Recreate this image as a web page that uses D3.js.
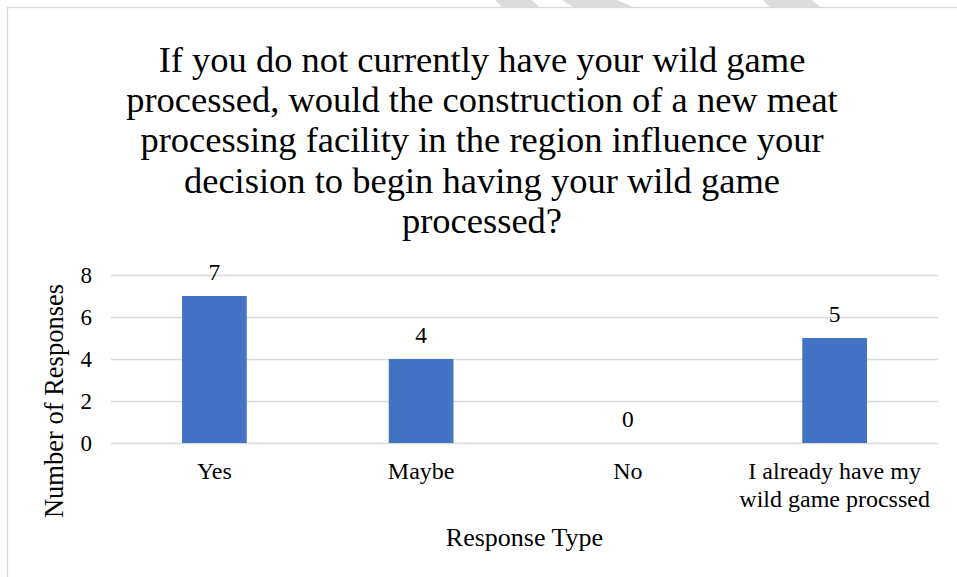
<!DOCTYPE html>
<html>
<head>
<meta charset="utf-8">
<script src="https://cdn.jsdelivr.net/npm/d3@7"></script>
<style>
  html, body { margin: 0; padding: 0; background: #fff; }
  svg { display: block; font-family: "Liberation Serif", "Times New Roman", serif; }
</style>
</head>
<body>
<div id="chart"></div>
<script>
// Survey bar chart: responses per answer type.

const TITLE_LINES = [
  "If you do not currently have your wild game",
  "processed, would the construction of a new meat",
  "processing facility in the region influence your",
  "decision to begin having your wild game",
  "processed?",
];
const CATEGORIES = ["Yes", "Maybe", "No", "I already have my wild game procssed"];
const COUNTS     = [7, 4, 0, 5];
const Y_TICKS    = [0, 2, 4, 6, 8];
const X_TITLE    = "Response Type";
const Y_TITLE    = "Number of Responses";

const W = 957, H = 577;
const plot = { left: 111, right: 938, top: 275, bottom: 443 };

const svg = d3.select("#chart").append("svg").attr("width", W).attr("height", H);

// faint watermark strokes peeking in at the top edge
const STRIPES = [
  [[495, 0], [532, 0], [539, 7], [502, 7]],
  [[562, 0], [617, 0], [633, 7], [573, 7]],
  [[763, 0], [812, 0], [820, 7], [770, 7]],
];
svg.append("g").selectAll("polygon").data(STRIPES).join("polygon")
  .attr("points", d => d.map(p => p.join(",")).join(" "))
  .attr("fill", "#dcdcdc");

// chart frame (only top and left edges fall inside the picture)
svg.append("rect")
  .attr("x", 7.5).attr("y", 7.5).attr("width", 1000).attr("height", 1000)
  .attr("fill", "none").attr("stroke", "#d9d9d9").attr("stroke-width", 1.3);

// ── Title ───────────────────────────────────────────────────────────────────
svg.append("text")
  .attr("x", 482).attr("y", 72)
  .attr("text-anchor", "middle")
  .style("font-size", "36.5px").style("fill", "#000")
  .selectAll("tspan").data(TITLE_LINES).join("tspan")
  .attr("x", 482).attr("dy", (d, i) => i === 0 ? 0 : 40.2)
  .text(d => d);

// ── Scales ──────────────────────────────────────────────────────────────────
const x = d3.scaleBand().domain(CATEGORIES).range([plot.left, plot.right]);
const y = d3.scaleLinear().domain([0, 8]).range([plot.bottom, plot.top]);
const barW = x.bandwidth() * 0.313;

// gridlines + y tick labels
svg.append("g")
  .attr("transform", `translate(${plot.left},0)`)
  .call(d3.axisLeft(y).tickValues(Y_TICKS).tickSize(-(plot.right - plot.left)).tickPadding(19))
  .call(ax => ax.select(".domain").remove())
  .call(ax => ax.selectAll(".tick line").attr("stroke", "#d9d9d9").attr("stroke-width", 1.3))
  .call(ax => ax.selectAll(".tick text")
    .attr("fill", "#000").style("font-size", "23px")
    .style("font-family", "'Liberation Serif', 'Times New Roman', serif"));

// bars
svg.append("g").selectAll("rect").data(CATEGORIES).join("rect")
  .attr("x", d => x(d) + (x.bandwidth() - barW) / 2)
  .attr("width", barW)
  .attr("y", (d, i) => y(COUNTS[i]))
  .attr("height", (d, i) => y(0) - y(COUNTS[i]))
  .attr("fill", "#4472c4");

// value labels
svg.append("g").selectAll("text").data(CATEGORIES).join("text")
  .attr("x", d => x(d) + x.bandwidth() / 2)
  .attr("y", (d, i) => y(COUNTS[i]) - 16.5)
  .attr("text-anchor", "middle")
  .style("font-size", "23.5px").style("fill", "#000")
  .text((d, i) => COUNTS[i]);

// category labels, wrapped to the band width
function wrap(sel, maxW) {
  sel.each(function(d) {
    const t = d3.select(this);
    const cx = +t.attr("x");
    const words = d.split(/\s+/);
    t.text(null);
    let line = [];
    let tspan = t.append("tspan").attr("x", cx).attr("dy", 0);
    words.forEach(w => {
      line.push(w);
      tspan.text(line.join(" "));
      if (tspan.node().getComputedTextLength() > maxW && line.length > 1) {
        line.pop();
        tspan.text(line.join(" "));
        line = [w];
        tspan = t.append("tspan").attr("x", cx).attr("dy", 27.5).text(w);
      }
    });
  });
}

svg.append("g").selectAll("text").data(CATEGORIES).join("text")
  .attr("x", d => x(d) + x.bandwidth() / 2)
  .attr("y", 479)
  .attr("text-anchor", "middle")
  .style("font-size", "24px").style("fill", "#000")
  .call(wrap, x.bandwidth() - 4);

// axis titles
svg.append("text")
  .attr("x", (plot.left + plot.right) / 2).attr("y", 546)
  .attr("text-anchor", "middle")
  .style("font-size", "26px").style("fill", "#000")
  .text(X_TITLE);

svg.append("text")
  .attr("transform", "translate(63,401) rotate(-90)")
  .attr("text-anchor", "middle")
  .style("font-size", "26.5px").style("fill", "#000")
  .text(Y_TITLE);
</script>
</body>
</html>
